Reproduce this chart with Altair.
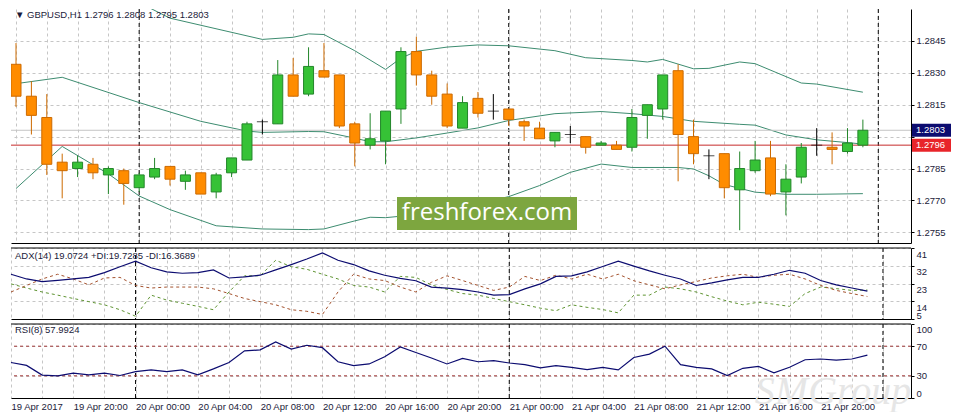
import altair as alt
import pandas as pd

# GBPUSD H1, one candle per hour, 19 Apr 16:00 .. 21 Apr 23:00
OPEN = [1.2834, 1.2819, 1.2809, 1.2788, 1.2785, 1.2787, 1.2782, 1.2784, 1.2776, 1.2781,
        1.2786, 1.2779, 1.2783, 1.2774, 1.2783, 1.2789, 1.2807, 1.2806, 1.2829, 1.2820,
        1.2831, 1.2829, 1.2806, 1.2796, 1.2798, 1.2813, 1.2840, 1.2829, 1.2820, 1.2804,
        1.2818, 1.2812, 1.2813, 1.2807, 1.2804, 1.2798, 1.2801, 1.2800, 1.2796, 1.2796,
        1.2795, 1.2810, 1.2813, 1.2831, 1.2800, 1.2791, 1.2792, 1.2775, 1.2784, 1.2790,
        1.2774, 1.2781, 1.2796, 1.2795, 1.2793, 1.2796]
HIGH = [1.2844, 1.2826, 1.2820, 1.2792, 1.2791, 1.2790, 1.2786, 1.2785, 1.2783, 1.2790,
        1.2786, 1.2784, 1.2783, 1.2783, 1.2790, 1.2807, 1.2808, 1.2836, 1.2837, 1.2842,
        1.2844, 1.2829, 1.2807, 1.2811, 1.2812, 1.2842, 1.2847, 1.2831, 1.2825, 1.2819,
        1.2821, 1.2820, 1.2813, 1.2808, 1.2807, 1.2802, 1.2805, 1.2800, 1.2798, 1.2798,
        1.2813, 1.2815, 1.2829, 1.2834, 1.2808, 1.2794, 1.2792, 1.2793, 1.2798, 1.2798,
        1.2787, 1.2797, 1.2804, 1.2802, 1.2804, 1.2808]
LOW = [1.2814, 1.2801, 1.2782, 1.2771, 1.2781, 1.2780, 1.2773, 1.2768, 1.2774, 1.2780,
       1.2777, 1.2775, 1.2773, 1.2771, 1.2781, 1.2789, 1.2801, 1.2806, 1.2819, 1.2819,
       1.2828, 1.2804, 1.2786, 1.2794, 1.2787, 1.2806, 1.2824, 1.2815, 1.2804, 1.2804,
       1.2809, 1.2808, 1.2805, 1.2798, 1.2799, 1.2795, 1.2797, 1.2792, 1.2796, 1.2794,
       1.2793, 1.2799, 1.2808, 1.2779, 1.2787, 1.2780, 1.2771, 1.2756, 1.2783, 1.2772,
       1.2763, 1.2778, 1.2791, 1.2787, 1.2792, 1.2795]
CLOSE = [1.2819, 1.2810, 1.2787, 1.2784, 1.2788, 1.2783, 1.2785, 1.2778, 1.2782, 1.2785,
         1.2780, 1.2782, 1.2773, 1.2782, 1.2790, 1.2806, 1.2807, 1.2829, 1.2819, 1.2833,
         1.2828, 1.2805, 1.2797, 1.2799, 1.2812, 1.2840, 1.2829, 1.2819, 1.2805, 1.2816,
         1.2811, 1.2812, 1.2808, 1.2805, 1.2799, 1.2802, 1.2801, 1.2795, 1.2797, 1.2794,
         1.2809, 1.2815, 1.2829, 1.2801, 1.2792, 1.2791, 1.2776, 1.2785, 1.2789, 1.2773,
         1.2780, 1.2795, 1.2796, 1.2794, 1.2797, 1.2803]

# Bollinger bands at a few bars
BB_UP_BAR = [8, 10, 16, 18, 19, 20, 22, 24, 25, 26, 28, 30, 32, 35, 37, 40, 41, 42, 44, 45, 47, 48, 51, 52, 55]
BB_UP = [1.28630, 1.28557, 1.28457, 1.28467, 1.28483, 1.28480, 1.28404, 1.28316, 1.28369, 1.28401,
         1.28421, 1.28431, 1.28427, 1.28404, 1.28371, 1.28358, 1.28351, 1.28363, 1.28319, 1.28321,
         1.28351, 1.28343, 1.28252, 1.28247, 1.28209]
BB_MID_BAR = [0, 3, 8, 12, 15, 16, 19, 20, 22, 23, 24, 26, 28, 30, 32, 35, 38, 40, 42, 44, 47, 48, 50, 52, 54, 55]
BB_MID = [1.28249, 1.28279, 1.28160, 1.28072, 1.28026, 1.28020, 1.28024, 1.28023, 1.27993, 1.27976,
          1.27976, 1.27994, 1.28017, 1.28041, 1.28076, 1.28108, 1.28118, 1.28108, 1.28095, 1.28072,
          1.28058, 1.28054, 1.28008, 1.27985, 1.27972, 1.27965]
BB_LOW_BAR = [0, 3, 6, 8, 10, 13, 16, 19, 20, 22, 23, 24, 26, 29, 32, 34, 36, 38, 40, 43, 44, 45, 46, 48, 50, 52, 55]
BB_LOW = [1.27756, 1.27954, 1.27825, 1.27721, 1.27657, 1.27581, 1.27566, 1.27563, 1.27566, 1.27604,
          1.27621, 1.27619, 1.27633, 1.27669, 1.27718, 1.27770, 1.27832, 1.27871, 1.27855, 1.27855,
          1.27848, 1.27816, 1.27775, 1.27739, 1.27729, 1.27729, 1.27732]

ADX = [27.7, 25.3, 24.0, 24.6, 25.3, 26.1, 28.5, 31.5, 34.3, 31.0,
       28.9, 28.2, 28.5, 29.9, 25.8, 26.4, 27.2, 29.9, 32.6, 35.4,
       38.5, 34.8, 32.6, 29.4, 27.2, 25.6, 24.4, 21.2, 20.7, 19.9,
       18.7, 17.1, 17.4, 20.3, 22.8, 26.6, 26.9, 28.9, 31.6, 34.3,
       31.8, 29.4, 27.2, 25.3, 22.0, 23.3, 24.8, 26.1, 26.1, 27.7,
       29.7, 28.2, 24.5, 22.3, 20.7, 19.1]
PLUS_DI = [22.8, 20.7, 18.7, 17.1, 15.4, 13.8, 12.2, 9.7, 6.4, 17.1,
           14.6, 13.0, 11.4, 9.7, 18.7, 26.9, 26.9, 34.8, 31.5, 30.2,
           27.7, 25.3, 22.0, 21.2, 18.7, 26.6, 26.1, 22.3, 20.0, 17.9,
           17.1, 15.4, 13.8, 12.2, 10.5, 9.2, 12.2, 10.9, 9.8, 8.1,
           17.1, 17.1, 21.2, 20.3, 18.7, 16.3, 14.1, 12.2, 13.5, 12.5,
           11.4, 17.9, 21.2, 20.4, 19.5, 19.7]
MINUS_DI = [18.7, 22.0, 25.3, 27.7, 25.3, 22.3, 25.8, 26.1, 22.0, 20.7,
            21.2, 21.2, 21.2, 20.3, 17.9, 15.4, 13.8, 12.2, 9.7, 8.9,
            7.3, 18.7, 27.7, 25.3, 24.5, 21.2, 18.7, 23.6, 26.9, 24.5,
            22.0, 19.5, 21.2, 26.6, 24.5, 27.2, 25.3, 27.7, 25.3, 27.7,
            24.4, 22.3, 20.3, 22.3, 24.0, 25.8, 26.9, 27.7, 26.1, 27.2,
            27.7, 25.3, 22.0, 19.5, 17.9, 16.4]
RSI = [48.0, 44.0, 31.0, 30.0, 33.5, 31.3, 33.5, 30.4, 35.7, 38.0,
       35.7, 38.0, 31.3, 39.3, 48.0, 63.7, 65.0, 75.7, 66.0, 71.3,
       68.0, 49.0, 43.7, 46.0, 55.7, 69.0, 61.5, 54.0, 46.0, 53.5,
       49.0, 50.4, 47.3, 45.0, 40.7, 43.7, 41.5, 38.4, 41.5, 38.0,
       54.8, 59.3, 70.0, 45.0, 41.5, 39.3, 30.4, 40.1, 42.8, 34.0,
       41.5, 51.7, 52.7, 51.3, 52.7, 58.0]

ASK, BID = 1.2803, 1.2796
RSI_LEVELS = [30, 70]
SEPARATORS = [8, 32, 56]  # day boundaries
PRICE_TICKS = [1.2755, 1.2770, 1.2785, 1.2800, 1.2815, 1.2830, 1.2845]
ADX_TICKS = [5, 14, 23, 32, 41]
RSI_TICKS = [0, 30, 70, 100]
TIME_LABELS = ["19 Apr 2017", "19 Apr 20:00", "20 Apr 00:00", "20 Apr 04:00", "20 Apr 08:00",
               "20 Apr 12:00", "20 Apr 16:00", "20 Apr 20:00", "21 Apr 00:00", "21 Apr 04:00",
               "21 Apr 08:00", "21 Apr 12:00", "21 Apr 16:00", "21 Apr 20:00"]

TITLE = "\u25bc GBPUSD,H1  1.2796 1.2808 1.2795 1.2803"
ADX_TITLE = "ADX(14) 19.0724 +DI:19.7285 -DI:16.3689"
RSI_TITLE = "RSI(8) 57.9924"

W = 900
H_MAIN, H_ADX, H_RSI = 234, 71, 74
X_MAX = 57.8

FONT = "Liberation Sans"
INK = "#1b1b3a"
GRID = "#c6c6c6"
NAVY = "#0c0c70"

candles = pd.DataFrame({"bar": range(len(OPEN)), "open": OPEN, "high": HIGH, "low": LOW, "close": CLOSE})
bands = pd.concat([
    pd.DataFrame({"bar": BB_UP_BAR, "value": BB_UP, "band": "upper"}),
    pd.DataFrame({"bar": BB_MID_BAR, "value": BB_MID, "band": "middle"}),
    pd.DataFrame({"bar": BB_LOW_BAR, "value": BB_LOW, "band": "lower"}),
])
ind = pd.DataFrame({"bar": range(len(RSI)), "rsi": RSI, "adx": ADX, "pdi": PLUS_DI, "mdi": MINUS_DI})
seps = pd.DataFrame({"bar": SEPARATORS})
levels = pd.DataFrame({"price": [ASK, BID], "kind": ["ask", "bid"],
                       "label": [f"{ASK:.4f}", f"{BID:.4f}"]})
rsi_levels = pd.DataFrame({"level": RSI_LEVELS})
one = pd.DataFrame({"t": [0]})

label_js = "[" + ",".join(f"'{t}'" for t in TIME_LABELS) + "]"
x_label_expr = f"datum.value % 4 == 0 ? {label_js}[datum.value / 4] : ''"


def x_enc(labels):
    return alt.X("bar:Q", title=None,
                 scale=alt.Scale(domain=[0, X_MAX], nice=False, zero=False),
                 axis=alt.Axis(values=list(range(0, 58, 2)), grid=True, gridColor=GRID,
                               gridDash=[3, 3], domain=True, domainColor="black", ticks=False,
                               labels=labels, labelExpr=x_label_expr, labelAlign="left",
                               labelPadding=3, labelFlush=False, labelOverlap=False))


def y_enc(field, domain, axis):
    return alt.Y(f"{field}:Q", title=None,
                 scale=alt.Scale(domain=domain, nice=False, zero=False), axis=axis)


def text_at(text, x, y):
    return alt.Chart(pd.DataFrame({"text": [text]})).mark_text(
        align="left", baseline="middle", font=FONT, fontSize=9.5, color=INK
    ).encode(x=alt.value(x), y=alt.value(y), text="text:N")


def top_border():
    return alt.Chart(one).mark_rule(color="black").encode(y=alt.value(0))


# ---------------- price panel ----------------
# the 1.2800 label is hidden behind the bid/ask boxes
main_axis = alt.Axis(orient="right", values=PRICE_TICKS, format=".4f",
                     labelExpr="abs(datum.value - 1.28) < 0.00001 ? '' : datum.label",
                     grid=True, gridColor=GRID, gridDash=[3, 3], domainColor="black",
                     tickColor="black", tickSize=3, labelPadding=2, labelOverlap=False)
X0 = x_enc(False)


def ym(field):
    return y_enc(field, [1.2750, 1.2860], main_axis)


layers = [
    alt.Chart(seps).mark_rule(color="black", strokeDash=[4, 3]).encode(x=X0),
    alt.Chart(bands).mark_line(color="#3d8c70", strokeWidth=1, clip=True).encode(
        x=X0, y=ym("value"), detail="band:N"),
    alt.Chart(levels).transform_filter("datum.kind == 'ask'").mark_rule(color="#c4c4c4").encode(y=ym("price")),
    alt.Chart(levels).transform_filter("datum.kind == 'bid'").mark_rule(color="#c62a2a").encode(y=ym("price")),
]

for test, fill, edge in [("datum.close > datum.open", "#36c236", "#23862a"),
                         ("datum.close < datum.open", "#ff8c00", "#cc6a00")]:
    base = alt.Chart(candles).transform_filter(test)
    layers.append(base.mark_rule(color=edge, strokeWidth=1, clip=True).encode(
        x=X0, y=ym("low"), y2="high"))
    layers.append(base.mark_bar(size=10, fill=fill, stroke=edge, strokeWidth=1, clip=True).encode(
        x=X0, y=ym("open"), y2="close"))

doji = alt.Chart(candles).transform_filter("datum.close == datum.open")
layers.append(doji.mark_rule(color="black", strokeWidth=1).encode(x=X0, y=ym("low"), y2="high"))
layers.append(doji.mark_tick(orient="horizontal", color="black", size=11, thickness=1).encode(
    x=X0, y=ym("open")))

# bid / ask boxes on the price scale
for kind, col in [("ask", NAVY), ("bid", "#e8242a")]:
    sub = alt.Chart(levels).transform_filter(f"datum.kind == '{kind}'")
    layers.append(sub.mark_point(shape="M-1,-0.333H1V0.333H-1Z", size=1521, filled=True,
                                 fill=col, opacity=1, strokeWidth=0, clip=False).encode(
        x=alt.value(W + 20.5), y=ym("price")))
    layers.append(sub.mark_text(align="left", baseline="middle", font=FONT, fontSize=9.5,
                                color="white", clip=False).encode(
        x=alt.value(W + 5), y=ym("price"), text="label:N"))

layers.append(text_at(TITLE, 4, 6))
layers.append(alt.Chart(one).mark_rect(color="#7da63f").encode(
    x=alt.value(386), x2=alt.value(566), y=alt.value(188), y2=alt.value(221)))
layers.append(alt.Chart(pd.DataFrame({"text": ["freshforex.com"]})).mark_text(
    font="Open Sans", fontSize=24, color="white", baseline="middle").encode(
    x=alt.value(476), y=alt.value(204), text="text:N"))

main = alt.layer(*layers).properties(width=W, height=H_MAIN)

# ---------------- ADX panel ----------------
adx_axis = alt.Axis(orient="right", values=ADX_TICKS, grid=True, gridColor=GRID, gridDash=[3, 3],
                    domainColor="black", tickColor="black", tickSize=3, labelPadding=2,
                    labelOverlap=False,
                    labelBaseline={"condition": {"test": "datum.value == 5", "value": "bottom"},
                                   "value": "top"},
                    labelOffset=1)
X1 = x_enc(False)


def ya(field):
    return y_enc(field, [5, 41], adx_axis)


adx = alt.layer(
    alt.Chart(seps).mark_rule(color="black", strokeDash=[4, 3]).encode(x=X1),
    top_border(),
    alt.Chart(ind).mark_line(color="#5f9432", strokeWidth=1, strokeDash=[3, 3]).encode(x=X1, y=ya("pdi")),
    alt.Chart(ind).mark_line(color="#a4522e", strokeWidth=1, strokeDash=[3, 3]).encode(x=X1, y=ya("mdi")),
    alt.Chart(ind).mark_line(color=NAVY, strokeWidth=1.2).encode(x=X1, y=ya("adx")),
    text_at(ADX_TITLE, 4, 8),
).properties(width=W, height=H_ADX)

# ---------------- RSI panel ----------------
rsi_axis = alt.Axis(orient="right", values=RSI_TICKS, grid=True, gridColor=GRID, gridDash=[3, 3],
                    domainColor="black", tickColor="black", tickSize=3, labelPadding=2,
                    labelFlush=True, labelOverlap=False)
X2 = x_enc(True)


def yr(field):
    return y_enc(field, [0, 100], rsi_axis)


rsi = alt.layer(
    alt.Chart(pd.DataFrame({"text": ["SMGroup"]})).mark_text(
        font="Liberation Serif", fontSize=40, fontStyle="italic", color="#e6e6e6",
        align="center", baseline="alphabetic", clip=False).encode(
        x=alt.value(822), y=alt.value(80), text="text:N"),
    alt.Chart(seps).mark_rule(color="black", strokeDash=[4, 3]).encode(x=X2),
    top_border(),
    alt.Chart(rsi_levels).mark_rule(color="#a33a3a", strokeDash=[3, 3]).encode(y=yr("level")),
    alt.Chart(ind).mark_line(color=NAVY, strokeWidth=1.2).encode(x=X2, y=yr("rsi")),
    text_at(RSI_TITLE, 4, 6),
).properties(width=W, height=H_RSI)

chart = alt.vconcat(main, adx, rsi, spacing=3).properties(
    padding=0, background="white"
).configure_view(stroke=None).configure_axis(
    labelFont=FONT, labelFontSize=9.5, labelColor=INK
)

chart.save("out.html", embed_options={"renderer": "svg", "actions": False})
